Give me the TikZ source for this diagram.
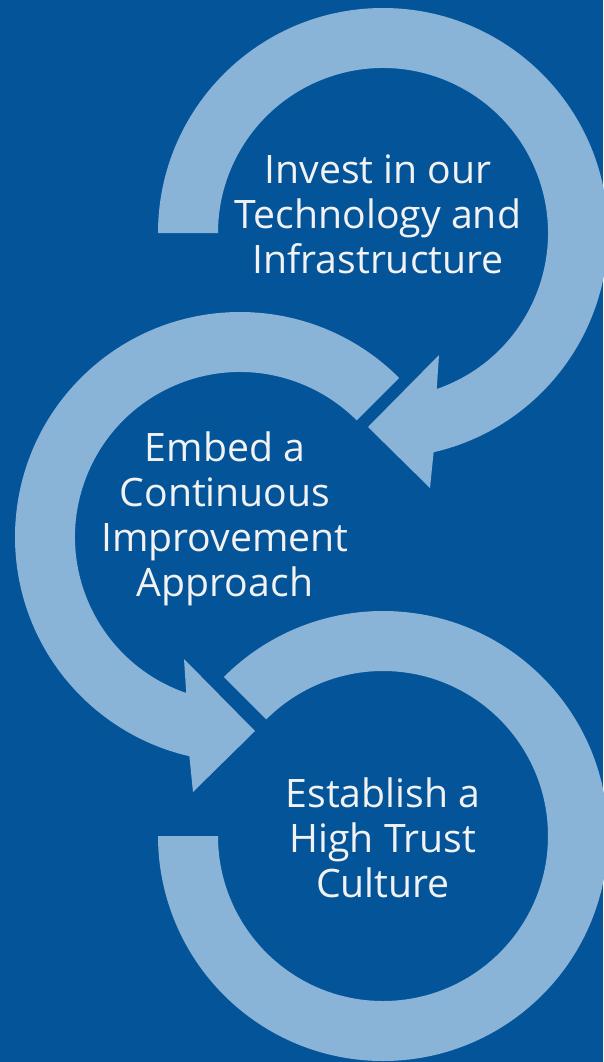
\documentclass[tikz,border=0pt]{standalone}
\usepackage{fontspec}
\setmainfont{Open Sans}
\usetikzlibrary{calc}
\definecolor{navy}{HTML}{04549A}
\definecolor{paleblue}{HTML}{8AB4D7}
\definecolor{offwhite}{HTML}{F2F2F2}
\tikzset{
  ring/.style={fill=paleblue,draw=none},
  steptext/.style={text=offwhite,align=center,inner sep=0pt,
    font=\fontsize{22.3pt}{25.6pt}\selectfont}
}
\begin{document}
\begin{tikzpicture}[x=0.02cm,y=0.02cm]
    \fill[navy] (0,0) rectangle (603,-1062);
    \useasboundingbox (0,0) rectangle (603,-1062);
    \coordinate (c1) at (383,-233);
    \coordinate (c2) at (240,-537);
    \coordinate (c3) at (383,-836);
    % top arrow, clockwise
    \fill[ring] ($(c1)+(180:225)$) arc[start angle=180,end angle=-77,radius=225]
        -- ($(c1)+(47,-255)$) -- ($(c1)+(-15,-194)$) -- ($(c1)+(56,-122)$)
        -- ($(c1)+(-71:165)$) arc[start angle=-71,end angle=180,radius=165] -- cycle;
    % middle arrow, anticlockwise
    \fill[ring] ($(c2)+(45:225)$) arc[start angle=45,end angle=257,radius=225]
        -- ($(c2)+(-47,-255)$) -- ($(c2)+(15,-194)$) -- ($(c2)+(-56,-122)$)
        -- ($(c2)+(251:165)$) arc[start angle=251,end angle=45,radius=165] -- cycle;
    % bottom ring
    \fill[ring] ($(c3)+(135:225)$) arc[start angle=135,end angle=-180,radius=225]
        -- ($(c3)+(180:165)$) arc[start angle=-180,end angle=135,radius=165] -- cycle;
    \node[steptext] (invest) at (378,-214) {Invest in our\\Technology and\\Infrastructure};
    \node[steptext] (embed) at (225,-519) {Embed a\\Continuous\\Improvement\\Approach};
    \node[steptext] (trust) at (383,-838) {Establish a\\High Trust\\Culture};
\end{tikzpicture}
\end{document}
